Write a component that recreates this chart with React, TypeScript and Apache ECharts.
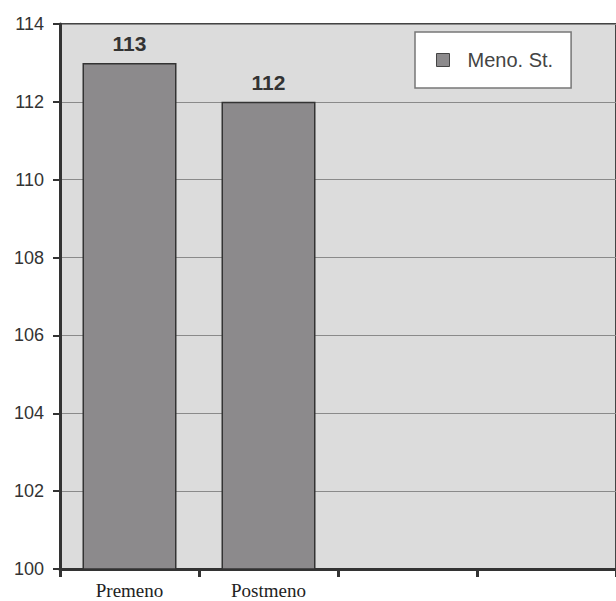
import React, { useEffect, useRef } from "react";
import * as echarts from "echarts";

const categories = ["Premeno", "Postmeno", "", ""];
const seriesName = "Meno. St.";
const values = [113, 112, null, null];
const yMin = 100;
const yMax = 114;
const yInterval = 2;

export default function App() {
  const ref = useRef<HTMLDivElement>(null);
  useEffect(() => {
    if (!ref.current) return;
    const chart = echarts.init(ref.current, null, { renderer: "svg" });
    chart.setOption({
      animation: false,
      backgroundColor: "#ffffff",
      grid: {
        left: 60,
        top: 24,
        width: 558,
        height: 545,
        show: true,
        backgroundColor: "#dcdcdc",
        borderColor: "#444444",
        borderWidth: 2,
      },
      legend: {
        data: [seriesName],
        left: 415,
        top: 32,
        orient: "vertical",
        backgroundColor: "#ffffff",
        borderColor: "#777777",
        borderWidth: 1.5,
        borderRadius: 0,
        padding: [18, 18, 18, 21],
        itemWidth: 13,
        itemHeight: 13,
        icon: "rect",
        itemStyle: { borderColor: "#444444", borderWidth: 1 },
        textStyle: {
          fontFamily: "Liberation Sans, Arial, sans-serif",
          fontSize: 20,
          color: "#444444",
          padding: [0, 0, 0, 13],
        },
      },
      xAxis: {
        type: "category",
        data: categories,
        boundaryGap: true,
        axisLine: { show: true, lineStyle: { color: "#333333", width: 3 } },
        axisTick: { show: true, alignWithLabel: false, length: 8, lineStyle: { color: "#333333", width: 3 } },
        axisLabel: {
          fontFamily: "Liberation Serif, Times New Roman, serif",
          fontSize: 19,
          color: "#222222",
          margin: 12,
        },
        splitLine: { show: false },
      },
      yAxis: {
        type: "value",
        min: yMin,
        max: yMax,
        interval: yInterval,
        axisLine: { show: true, lineStyle: { color: "#333333", width: 3 } },
        axisTick: { show: true, length: 7, lineStyle: { color: "#333333", width: 2 } },
        axisLabel: {
          fontFamily: "Liberation Sans, Arial, sans-serif",
          fontSize: 18,
          color: "#333333",
          margin: 16,
        },
        splitLine: { show: true, lineStyle: { color: "#8a8a8a", width: 1 } },
      },
      series: [
        {
          name: seriesName,
          type: "bar",
          data: values,
          barWidth: 94,
          itemStyle: { color: "#8c8a8c", borderColor: "#333333", borderWidth: 1.5 },
          label: {
            show: true,
            position: "top",
            distance: 9,
            fontFamily: "Liberation Sans, Arial, sans-serif",
            fontSize: 21,
            fontWeight: "bold",
            color: "#333333",
          },
        },
      ],
    });
    return () => chart.dispose();
  }, []);
  return (
    <div
      ref={ref}
      style={{ position: "fixed", left: 0, top: 0, width: 616, height: 601, overflow: "hidden" }}
    />
  );
}
